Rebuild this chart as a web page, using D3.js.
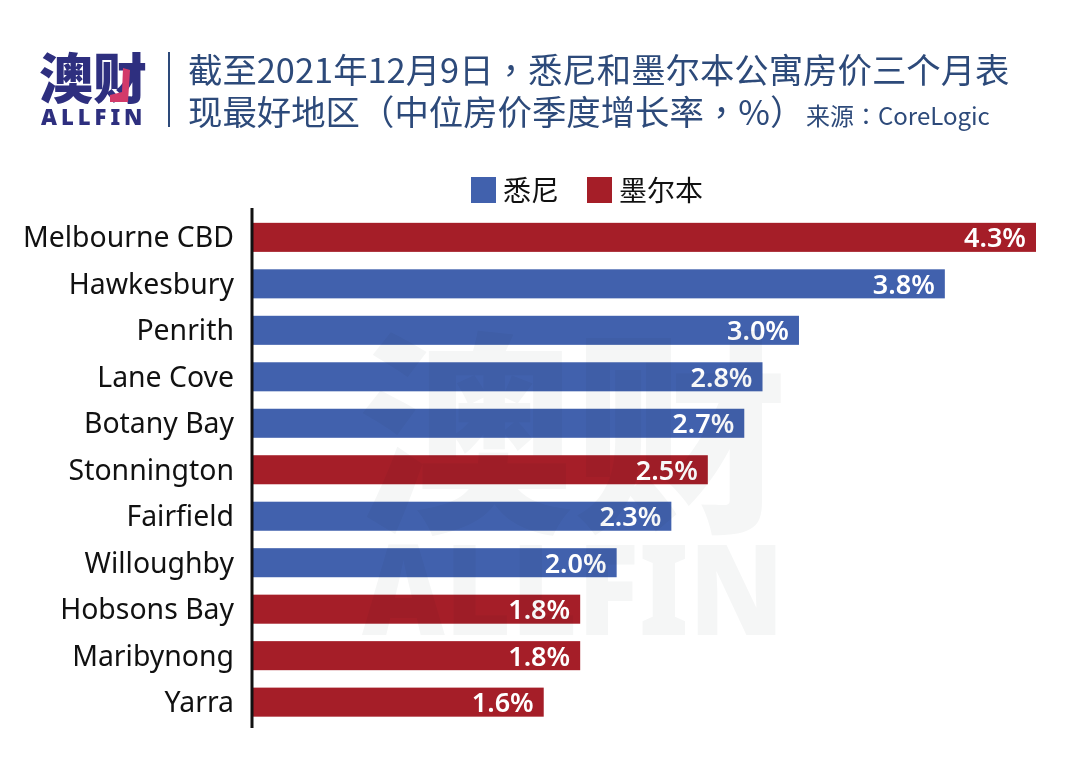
<!DOCTYPE html>
<html>
<head>
<meta charset="utf-8">
<script src="https://cdn.jsdelivr.net/npm/d3@7"></script>
<style>
  html, body { margin: 0; padding: 0; background: #fff; }
  svg { display: block; }
  text { font-family: "Noto Sans", "Noto Sans CJK SC", sans-serif; }
  .cjk { font-family: "Noto Sans CJK SC", sans-serif; }
  .punct { font-family: "Noto Sans CJK TC", sans-serif; }
</style>
</head>
<body>
<svg id="chart" width="1080" height="777"></svg>
<script>
var categories = ['Melbourne CBD', 'Hawkesbury', 'Penrith', 'Lane Cove', 'Botany Bay', 'Stonnington', 'Fairfield', 'Willoughby', 'Hobsons Bay', 'Maribynong', 'Yarra'];
var growth = [4.3, 3.8, 3.0, 2.8, 2.7, 2.5, 2.3, 2.0, 1.8, 1.8, 1.6];
var cities = ['墨尔本', '悉尼', '悉尼', '悉尼', '悉尼', '墨尔本', '悉尼', '悉尼', '墨尔本', '墨尔本', '墨尔本'];
var legendNames = ['悉尼', '墨尔本'];
var legendColors = ['#4161ad', '#a51e28'];

var svg = d3.select('#chart');
var navy = '#2d4a7a';

var x = d3.scaleLinear().domain([0, 4.3]).range([252, 1036]);
var y = d3.scaleBand().domain(categories).range([214, 725.5]).paddingInner(0.375).paddingOuter(0.19);
var color = d3.scaleOrdinal().domain(legendNames).range(legendColors);

// header logo
svg.append('text').attr('class', 'cjk').attr('x', 39).attr('y', 99)
  .attr('font-size', 54).attr('font-weight', 900).attr('fill', '#2e2f7f')
  .text('澳财');
svg.append('path').attr('d', 'M123 68 L130 70 L128 102 L110 102 L110 95 L122 92 Z').attr('fill', '#d23a6a');
svg.append('text').attr('x', 41).attr('y', 125)
  .attr('font-size', 22).attr('font-weight', 900).attr('letter-spacing', 4).attr('fill', '#2e2f7f')
  .text('ALLFIN');
svg.append('line').attr('x1', 169).attr('x2', 169).attr('y1', 52).attr('y2', 127)
  .attr('stroke', navy).attr('stroke-width', 2);

// title, the punctuation comes from the TC font because it sits centred there
function titleLine(yPos, parts) {
  var t = svg.append('text').attr('class', 'cjk').attr('x', 188).attr('y', yPos)
    .attr('font-size', 34.4).attr('fill', navy);
  parts.forEach(function(p) {
    t.append('tspan').attr('class', /^[，（）]/.test(p) ? 'punct' : 'cjk').text(p);
  });
}
titleLine(83, ['截至2021年12月9日', '，', '悉尼和墨尔本公寓房价三个月表']);
titleLine(125, ['现最好地区', '（', '中位房价季度增长率', '，', '%', '）']);
svg.append('text').attr('x', 806).attr('y', 125)
  .attr('font-size', 24).attr('fill', navy)
  .call(function(t) {
    t.append('tspan').attr('class', 'cjk').text('来源');
    t.append('tspan').attr('class', 'punct').text('：');
    t.append('tspan').attr('class', 'cjk').text('CoreLogic');
  });

// legend
var legendX = [471, 587];
legendNames.forEach(function(name, i) {
  svg.append('rect').attr('x', legendX[i]).attr('y', 177).attr('width', 25).attr('height', 26)
    .attr('fill', color(name));
  svg.append('text').attr('class', 'cjk').attr('x', legendX[i] + 32).attr('y', 201)
    .attr('font-size', 28).attr('fill', '#111').text(name);
});

// bars
var rows = categories.map(function(c, i) {
  return { name: c, value: growth[i], city: cities[i] };
});

svg.selectAll('rect.bar')
  .data(rows)
  .enter()
  .append('rect')
  .attr('class', 'bar')
  .attr('x', x(0))
  .attr('y', function(d) { return y(d.name); })
  .attr('width', function(d) { return x(d.value) - x(0); })
  .attr('height', y.bandwidth())
  .attr('fill', function(d) { return color(d.city); });

svg.selectAll('text.value')
  .data(rows)
  .enter()
  .append('text')
  .attr('class', 'value')
  .attr('x', function(d) { return x(d.value) - 10; })
  .attr('y', function(d) { return y(d.name) + y.bandwidth() / 2 + 10; })
  .attr('text-anchor', 'end')
  .attr('font-size', 27)
  .attr('font-weight', 600)
  .attr('fill', '#fff')
  .text(function(d) { return d.value.toFixed(1) + '%'; });

// category axis
var axis = svg.append('g')
  .attr('transform', 'translate(' + x(0) + ',1)')
  .call(d3.axisLeft(y).tickSize(0).tickPadding(18));
axis.select('.domain').remove();
axis.append('line').attr('y1', 207).attr('y2', 727).attr('stroke', '#111').attr('stroke-width', 3);
axis.selectAll('.tick text')
  .attr('font-size', 28.4)
  .attr('fill', '#111')
  .style('font-family', '"Noto Sans", sans-serif');

// watermark
var mark = svg.append('g').style('mix-blend-mode', 'multiply').attr('fill', '#f5f6f6');
mark.append('text').attr('class', 'cjk').attr('x', 358).attr('y', 515)
  .attr('font-size', 215).attr('font-weight', 900).text('澳财');
mark.append('text').attr('x', 362).attr('y', 635)
  .attr('font-size', 125).attr('font-weight', 900).attr('textLength', 422).attr('lengthAdjust', 'spacingAndGlyphs').text('ALLFIN');
</script>
</body>
</html>
